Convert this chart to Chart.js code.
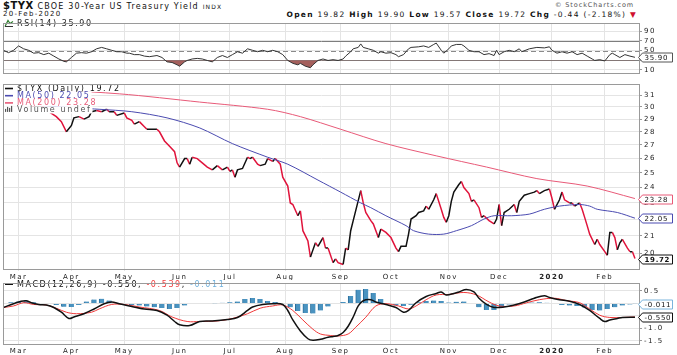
<!DOCTYPE html>
<html><head><meta charset="utf-8">
<script src="https://cdn.jsdelivr.net/npm/chart.js@4.4.1/dist/chart.umd.min.js"></script>
<style>
html,body{margin:0;padding:0;background:#fff;width:677px;height:355px;overflow:hidden;font-family:"DejaVu Sans",sans-serif;color:#111;}
canvas{position:absolute;left:0;}
.t{position:absolute;white-space:nowrap;}
</style></head><body>
<div class="t" style="left:3px;top:0px;font-size:8px;letter-spacing:1.2px;"><b style="font-size:10px;letter-spacing:0.5px">$TYX</b> CBOE 30-Year US Treasury Yield <span style="font-size:6px">INDX</span></div>
<div class="t" style="left:3px;top:10px;font-size:7px;letter-spacing:1.3px;">20-Feb-2020</div>
<div class="t" style="right:40px;top:10px;font-size:7.5px;letter-spacing:1.3px;"><b>Open</b> 19.82 <b>High</b> 19.90 <b>Low</b> 19.57 <b>Close</b> 19.72 <b>Chg</b> -0.44 (-2.18%) <span style="color:#d01030">&#9660;</span></div>
<div class="t" style="right:43px;top:1px;font-size:6.5px;letter-spacing:0.9px;color:#555;">&copy; StockCharts.com</div>
<canvas id="rsi" width="677" height="63" style="top:17px"></canvas>
<canvas id="main" width="677" height="202" style="top:78px"></canvas>
<canvas id="macd" width="677" height="78" style="top:277px"></canvas>
<script>
const FONT = '"DejaVu Sans", sans-serif';
// trading-day index of first session of each month (day 0 = 21-Feb-2019)
const monthTicks  = [6, 27, 48, 70, 90, 112, 134, 154, 177, 197, 218, 239];
const monthLabels = ['Mar','Apr','May','Jun','Jul','Aug','Sep','Oct','Nov','Dec','2020','Feb'];
const priceTicks = [20,21,22,23,24,25,26,27,28,29,30,31];
const rsiTicks = [10,30,50,70,90];
const macdTicks = [0.5,0,-0.5,-1,-1.5];

const priceData = [[0,30.4],[3,30.8],[6,30.9],[9,30.4],[12,30.0],[15,30.1],[18,29.6],
[21,29.2],[23,28.8],[25,28.0],[27,28.5],[28,29.1],[30,29.2],[32,29.0],[34,29.2],[35,29.6],[37,29.7],[39,29.6],[41,29.8],[42,29.6],[44,29.6],[45,29.3],[48,29.5],[49,29.1],[51,28.9],[52,28.6],[54,28.8],[56,28.4],[57,28.2],[59,28.2],[61,28.2],[62,28.0],[64,27.3],[66,26.9],[68,26.5],[69,25.7],[70,25.4],[72,26.0],[73,26.0],[74,25.6],[75,26.1],[77,26.0],[79,25.7],[81,25.4],[83,25.2],[85,25.5],[87,25.2],[89,25.4],[90,25.1],[91,25.2],[92,24.7],[93,25.2],[95,25.3],[97,26.1],[98,26.0],[99,26.1],[101,25.6],[102,25.5],[104,25.6],[105,26.0],[107,25.8],[108,26.0],[110,25.6],[111,24.7],[113,24.1],[114,23.0],[115,22.9],[117,22.2],[118,22.5],[119,21.3],[121,20.7],[122,19.8],[123,20.2],[124,20.6],[125,20.4],[127,20.9],[128,20.3],[129,20.3],[131,19.5],[132,19.7],[133,19.5],[135,19.4],[136,20.3],[137,20.2],[138,21.3],[139,21.9],[142,23.8],[143,23.0],[144,22.4],[146,21.9],[147,21.7],[149,20.9],[150,21.4],[152,21.2],[154,20.9],[156,20.3],[157,20.1],[158,20.4],[160,20.4],[161,21.1],[162,22.0],[164,22.2],[165,22.4],[167,22.5],[168,22.8],[169,22.6],[171,23.2],[172,23.6],[174,22.6],[175,22.1],[176,21.8],[177,22.2],[178,23.1],[179,23.7],[181,24.2],[182,24.4],[183,24.0],[185,23.6],[186,23.1],[187,23.2],[189,22.7],[190,22.1],[191,22.2],[193,21.9],[195,21.7],[196,22.0],[197,22.9],[198,21.6],[199,22.4],[201,22.6],[203,22.9],[204,22.4],[205,23.1],[207,23.5],[209,23.6],[211,23.7],[212,23.8],[213,23.6],[215,23.8],[217,23.9],[218,23.3],[219,22.6],[221,23.2],[222,23.7],[223,23.2],[225,23.0],[226,23.0],[227,22.8],[229,23.0],[230,22.6],[231,22.1],[232,21.6],[233,21.1],[235,20.5],[236,20.8],[237,20.5],[239,20.1],[240,19.9],[241,21.2],[242,21.2],[243,20.9],[244,20.2],[245,20.6],[246,20.8],[248,20.3],[249,20.1],[250,20.1],[251,19.72]];

const ma50Data = [[0,30.3],[30,29.9],[38,29.8],[51,29.6],[65,29.1],[78,28.3],[91,27.1],[105,26.1],[113,25.6],[125,24.5],[134,23.7],[142,23.0],[146,22.7],[152,22.2],[160,21.6],[163,21.3],[169,21.1],[175,21.1],[180,21.3],[186,21.6],[191,22.0],[195,22.2],[202,22.2],[209,22.3],[215,22.6],[221,22.8],[229,22.9],[233,22.8],[236,22.6],[244,22.4],[251,22.05]];

const ma200Data = [[0,31.7],[46,31.1],[78,30.4],[105,29.8],[118,29.2],[134,28.2],[152,27.1],[172,26.2],[192,25.4],[212,24.6],[232,24.1],[251,23.28]];

const rsiData = [[0,50.5],[2,45.6],[4,50.5],[6,59.6],[8,53.6],[10,50.5],[12,44.5],[14,45.6],[16,41.5],[18,44.5],[20,38.4],[22,32.4],[24,27.5],[25,26.4],[27,35.5],[29,44.5],[31,45.6],[33,44.5],[35,47.5],[37,53.6],[39,56.5],[41,53.6],[43,50.5],[45,47.5],[47,47.5],[49,44.5],[50,44.5],[52,41.5],[54,41.5],[56,38.4],[58,37.2],[61,39.6],[63,35.5],[65,26.4],[67,25.1],[69,20.2],[70,17.3],[72,26.4],[73,29.3],[75,32.4],[77,33.6],[79,32.4],[81,29.3],[83,26.4],[85,35.5],[87,39.6],[89,35.5],[91,41.5],[93,47.5],[95,44.5],[97,53.6],[99,50.5],[101,47.5],[103,50.5],[105,47.5],[107,50.5],[109,47.5],[111,41.5],[113,29.3],[115,23.3],[117,20.2],[118,23.3],[120,17.3],[122,14.2],[123,20.2],[125,29.3],[127,32.4],[129,29.3],[131,31.0],[133,29.3],[135,32.4],[136,38.4],[138,47.5],[139,53.6],[141,56.5],[142,63.8],[143,56.5],[145,53.6],[147,50.5],[149,44.5],[150,47.5],[152,44.5],[154,45.6],[156,41.5],[157,37.2],[159,41.5],[161,53.6],[162,56.5],[165,57.8],[167,59.6],[169,56.5],[171,62.7],[172,65.6],[174,50.5],[175,44.5],[177,53.6],[178,59.6],[180,62.7],[182,62.7],[183,59.6],[185,50.5],[187,47.5],[189,47.5],[191,41.5],[193,43.5],[195,39.6],[196,50.5],[197,41.5],[199,47.5],[201,50.5],[203,47.5],[205,53.6],[206,47.5],[209,53.6],[212,56.5],[215,55.5],[217,57.8],[218,50.5],[220,44.5],[222,47.5],[224,44.5],[226,47.5],[228,41.5],[230,44.5],[232,38.4],[234,32.4],[235,29.3],[237,31.0],[239,28.2],[241,41.5],[242,44.5],[243,41.5],[245,35.5],[247,41.5],[249,38.4],[251,35.9]];

const macdData = [[0,-0.16],[4,-0.01],[7,0.09],[9,0.11],[11,0.03],[14,-0.04],[17,-0.06],[20,-0.16],[23,-0.35],[26,-0.60],[28,-0.54],[32,-0.41],[36,-0.22],[40,-0.01],[43,0.06],[46,-0.01],[50,-0.10],[56,-0.22],[61,-0.28],[65,-0.47],[68,-0.72],[70,-0.85],[74,-0.88],[78,-0.72],[83,-0.70],[89,-0.64],[93,-0.56],[97,-0.28],[99,-0.14],[103,-0.04],[107,-0.01],[111,-0.04],[113,-0.28],[115,-0.66],[118,-1.10],[121,-1.41],[123,-1.47],[126,-1.43],[129,-1.35],[131,-1.32],[133,-1.28],[135,-1.16],[137,-0.91],[139,-0.54],[141,-0.10],[143,0.11],[146,0.15],[148,0.06],[152,-0.04],[156,-0.16],[159,-0.35],[161,-0.28],[164,0.03],[168,0.28],[172,0.40],[174,0.46],[176,0.34],[179,0.40],[181,0.46],[184,0.56],[187,0.46],[189,0.21],[192,-0.04],[195,-0.16],[199,-0.14],[203,-0.06],[207,0.06],[211,0.21],[215,0.31],[217,0.24],[221,0.15],[225,0.09],[229,-0.04],[233,-0.28],[237,-0.60],[239,-0.72],[241,-0.66],[244,-0.60],[246,-0.56],[251,-0.550]];

const signalData = [[0,-0.16],[4,-0.10],[8,0.03],[12,-0.04],[17,-0.06],[21,-0.19],[25,-0.35],[29,-0.41],[35,-0.35],[38,-0.22],[43,-0.04],[48,-0.04],[54,-0.14],[62,-0.28],[67,-0.54],[73,-0.72],[78,-0.72],[85,-0.70],[91,-0.60],[97,-0.41],[102,-0.19],[107,-0.10],[111,-0.06],[115,-0.28],[119,-0.66],[123,-1.03],[126,-1.22],[130,-1.28],[133,-1.30],[137,-1.22],[140,-0.95],[144,-0.55],[148,-0.10],[152,-0.01],[157,-0.10],[161,-0.22],[164,-0.10],[168,0.15],[172,0.34],[177,0.36],[183,0.44],[188,0.34],[193,0.06],[197,-0.10],[203,-0.10],[208,0.03],[213,0.15],[219,0.21],[224,0.11],[229,0.03],[233,-0.22],[237,-0.47],[241,-0.56],[246,-0.56],[251,-0.539]];

const histData = [[0,0.02],[3,0.05],[6,0.08],[9,0.09],[12,0.05],[15,0.02],[18,0.0],[21,-0.06],[24,-0.13],[27,-0.14],[30,-0.06],[33,0.08],[36,0.16],[39,0.19],[42,0.12],[45,0.03],[48,-0.02],[51,-0.06],[54,-0.08],[57,-0.12],[60,-0.15],[63,-0.18],[66,-0.22],[69,-0.18],[72,-0.08],[75,0.0],[78,0.02],[81,0.02],[84,0.01],[87,0.03],[90,0.05],[93,0.08],[96,0.18],[99,0.22],[102,0.18],[105,0.10],[108,0.06],[111,0.02],[114,-0.15],[117,-0.30],[120,-0.38],[123,-0.40],[126,-0.28],[129,-0.12],[132,-0.02],[135,0.06],[138,0.30],[141,0.55],[144,0.58],[147,0.42],[150,0.18],[153,-0.03],[156,-0.08],[159,-0.10],[162,-0.05],[165,0.05],[168,0.10],[171,0.12],[174,0.10],[177,0.04],[180,0.07],[183,0.08],[186,-0.02],[189,-0.15],[192,-0.26],[195,-0.26],[198,-0.15],[201,-0.04],[204,0.02],[207,0.03],[210,0.04],[213,0.05],[216,0.03],[219,-0.02],[222,-0.06],[225,-0.08],[228,-0.10],[231,-0.16],[234,-0.26],[237,-0.28],[240,-0.22],[243,-0.15],[246,-0.08],[249,-0.04],[251,-0.011]];

const xy = a => a.map(p => ({x: p[0], y: p[1]}));
const last = a => a[a.length - 1][1];

const C = {
  up: '#111111', down: '#e0143c', ma50: '#4b4bb0', ma200: '#e85a78',
  rsi: '#333333', rsiFill: '#a45f5c', macd: '#111111', signal: '#f03a3a', hist: '#4a93c0', histEdge: '#2c6f9c',
  grid: '#e4e4e4', frame: '#9a9a9a', text: '#222'
};

function spacing(ctx, s) { try { ctx.letterSpacing = s; } catch (e) {} }

const spacingPlugin = { id: 'spacing', beforeDraw(c) { spacing(c.ctx, '1.5px'); }, beforeLayout(c){ spacing(c.ctx, '1.5px'); } };

function frameDraw(c) {
  const {ctx, chartArea: a} = c;
  ctx.save();
  ctx.strokeStyle = C.frame; ctx.lineWidth = 1;
  ctx.strokeRect(Math.round(a.left) + 0.5, Math.round(a.top) + 0.5, Math.round(a.right - a.left) - 1, Math.round(a.bottom - a.top) - 1);
  ctx.restore();
}

function tag(c, value, text, border, bold) {
  const ctx = c.ctx, y = Math.round(c.scales.y.getPixelForValue(value)) + 0.5;
  const x = Math.round(c.chartArea.right) - 1.5, w = 30, h = 9;
  ctx.save();
  spacing(ctx, '0.7px');
  ctx.beginPath();
  ctx.moveTo(x, y); ctx.lineTo(x + 4, y - h / 2); ctx.lineTo(x + 4 + w, y - h / 2);
  ctx.lineTo(x + 4 + w, y + h / 2); ctx.lineTo(x + 4, y + h / 2); ctx.closePath();
  ctx.fillStyle = '#fff'; ctx.fill();
  ctx.strokeStyle = border; ctx.lineWidth = 1; ctx.stroke();
  ctx.fillStyle = '#111'; ctx.textBaseline = 'middle'; ctx.textAlign = 'left';
  ctx.font = (bold ? 'bold ' : '') + '7px ' + FONT;
  ctx.fillText(text, x + 6, y + 0.5);
  ctx.restore();
}

function legendRows(c, rows, x0, y0, dy) {
  const ctx = c.ctx;
  ctx.save();
  spacing(ctx, '1.6px');
  ctx.textBaseline = 'middle';
  rows.forEach((r, i) => {
    const y = y0 + i * dy;
    ctx.font = '8px ' + FONT;
    let w = 12;
    r.parts.forEach(p => { w += ctx.measureText(p[0]).width; });
    ctx.fillStyle = '#fff';
    ctx.fillRect(x0 - 2, y - dy / 2, w + 3, dy);
    if (r.icon === 'dash') { ctx.fillStyle = r.color; ctx.fillRect(x0, y - 0.6, 8, 1.6); }
    else if (r.icon === 'bars') { ctx.fillStyle = '#555'; [0,2,4,6].forEach((k, j) => ctx.fillRect(x0 + k, y + 2 - [3,5,4,6][j], 1.2, [3,5,4,6][j])); }
    else if (r.icon === 'rsi') { ctx.strokeStyle = '#2a7a2a'; ctx.lineWidth = 1.2; ctx.beginPath(); ctx.moveTo(x0, y + 3); ctx.lineTo(x0 + 3, y - 3); ctx.lineTo(x0 + 5, y); ctx.lineTo(x0 + 8, y - 2); ctx.stroke(); ctx.fillStyle='#333'; ctx.fillRect(x0, y+2.5, 8, 1); }
    let x = x0 + 12;
    r.parts.forEach(p => { ctx.fillStyle = p[1]; ctx.fillText(p[0], x, y + 0.5); x += ctx.measureText(p[0]).width; });
  });
  ctx.restore();
}

function xScale(labels, h) {
  return {
    type: 'linear', min: -0.2, max: 253, offset: false,
    afterBuildTicks: s => { s.ticks = monthTicks.map(v => ({value: v})); },
    afterFit: s => { s.height = h; },
    grid: { color: C.grid, drawTicks: false, offset: false },
    border: { display: false },
    ticks: {
      display: labels, autoSkip: false, maxRotation: 0, padding: 2, color: C.text,
      font: ctx => ({ family: FONT, size: 7, weight: (ctx.tick && ctx.tick.value === 218) ? 'bold' : 'normal' }),
      callback: (v, i) => monthLabels[i]
    }
  };
}
function yScale(extra, ticks, fmt) {
  return Object.assign({
    position: 'right',
    afterBuildTicks: s => { s.ticks = ticks.map(v => ({value: v})); },
    afterFit: s => { s.width = 37; },
    grid: { color: C.grid, tickLength: 2, tickColor: '#999' },
    border: { display: false },
    ticks: { padding: 2, color: C.text, font: { family: FONT, size: 7 }, callback: fmt }
  }, extra);
}
const base = { responsive: false, animation: false, events: [], plugins: { legend: { display: false }, tooltip: { enabled: false } } };

// ---------- RSI ----------
new Chart(document.getElementById('rsi'), {
  type: 'line',
  data: { datasets: [{ data: xy(rsiData), borderColor: C.rsi, borderWidth: 1, pointRadius: 0, tension: 0,
    fill: { target: { value: 30 }, above: 'rgba(0,0,0,0)', below: C.rsiFill } }] },
  options: Object.assign({}, base, {
    layout: { padding: { left: 3, top: 2, right: 0, bottom: 0 } },
    scales: { x: xScale(false, 3), y: yScale({ min: 1.5, max: 107 }, rsiTicks, v => String(v)) }
  }),
  plugins: [spacingPlugin, {
    id: 'rsiExtras',
    beforeDatasetsDraw(c) {
      const {ctx, chartArea: a} = c, y = c.scales.y;
      ctx.save();
      ctx.strokeStyle = '#7d7d7d'; ctx.lineWidth = 1;
      [70, 30].forEach(v => { const p = Math.round(y.getPixelForValue(v)) + 0.5; ctx.beginPath(); ctx.moveTo(a.left, p); ctx.lineTo(a.right, p); ctx.stroke(); });
      ctx.setLineDash([5, 3]); ctx.strokeStyle = '#8a8a8a';
      const p = Math.round(y.getPixelForValue(50)) + 0.5; ctx.beginPath(); ctx.moveTo(a.left, p); ctx.lineTo(a.right, p); ctx.stroke();
      ctx.restore();
    },
    afterDatasetsDraw(c) {
      legendRows(c, [{ icon: 'rsi', parts: [['RSI(14) ' + last(rsiData).toFixed(2), '#222']] }], 5, 6.5, 8);
    },
    afterDraw(c) { frameDraw(c); tag(c, last(rsiData), last(rsiData).toFixed(2), '#555', false); }
  }]
});

// ---------- Price ----------
new Chart(document.getElementById('main'), {
  type: 'line',
  data: { datasets: [
    { data: xy(ma200Data), borderColor: C.ma200, borderWidth: 1, pointRadius: 0, tension: 0.3 },
    { data: xy(ma50Data), borderColor: C.ma50, borderWidth: 1, pointRadius: 0, tension: 0.3 },
    { data: xy(priceData), borderColor: C.up, borderWidth: 1.5, pointRadius: 0, tension: 0,
      segment: { borderColor: s => s.p1.parsed.y < s.p0.parsed.y ? C.down : C.up } }
  ] },
  options: Object.assign({}, base, {
    layout: { padding: { left: 3, top: 2, right: 0, bottom: 0 } },
    scales: { x: xScale(true, 9.5), y: yScale({ type: 'logarithmic', min: 19.08, max: 31.94 }, priceTicks, v => String(v)) }
  }),
  plugins: [spacingPlugin, {
    id: 'mainExtras',
    afterDatasetsDraw(c) {
      legendRows(c, [
        { icon: 'dash', color: '#111', parts: [['$TYX (Daily) ' + last(priceData).toFixed(2), '#111']] },
        { icon: 'dash', color: C.ma50, parts: [['MA(50) ' + last(ma50Data).toFixed(2), C.ma50]] },
        { icon: 'dash', color: C.ma200, parts: [['MA(200) ' + last(ma200Data).toFixed(2), C.ma200]] },
        { icon: 'bars', parts: [['Volume undef', '#555']] }
      ], 5, 10.3, 7.2);
    },
    afterDraw(c) {
      frameDraw(c);
      tag(c, last(ma200Data), last(ma200Data).toFixed(2), C.ma200, false);
      tag(c, last(ma50Data), last(ma50Data).toFixed(2), C.ma50, false);
      tag(c, last(priceData), last(priceData).toFixed(2), '#111', true);
    }
  }]
});

// ---------- MACD ----------
new Chart(document.getElementById('macd'), {
  data: { datasets: [
    { type: 'bar', data: xy(histData), backgroundColor: C.hist, borderColor: C.histEdge,
      borderWidth: { left: 1, right: 0, top: 0, bottom: 0 }, borderSkipped: false,
      barPercentage: 1, categoryPercentage: 1, order: 3 },
    { type: 'line', data: xy(signalData), borderColor: C.signal, borderWidth: 1, pointRadius: 0, tension: 0.35, order: 2 },
    { type: 'line', data: xy(macdData), borderColor: C.macd, borderWidth: 1.5, pointRadius: 0, tension: 0.35, order: 1 }
  ] },
  options: Object.assign({}, base, {
    layout: { padding: { left: 3, top: 2, right: 0, bottom: 0 } },
    scales: { x: xScale(true, 10), y: yScale({ min: -1.66, max: 0.81 }, macdTicks, v => (v === 0 ? '0' : v.toFixed(1))) }
  }),
  plugins: [spacingPlugin, {
    id: 'macdExtras',
    afterDatasetsDraw(c) {
      legendRows(c, [{ icon: 'dash', color: '#111', parts: [
        ['MACD(12,26,9) ' + last(macdData).toFixed(3), '#111'], [', ', '#111'],
        [last(signalData).toFixed(3), C.signal], [', ', '#111'], [last(histData).toFixed(3), '#6fb0dc']] }], 5, 7, 8);
    },
    afterDraw(c) {
      frameDraw(c);
      tag(c, last(histData), last(histData).toFixed(3), '#7ab4dc', false);
      tag(c, last(macdData), last(macdData).toFixed(3), '#111', false);
    }
  }]
});
</script>
</body></html>
